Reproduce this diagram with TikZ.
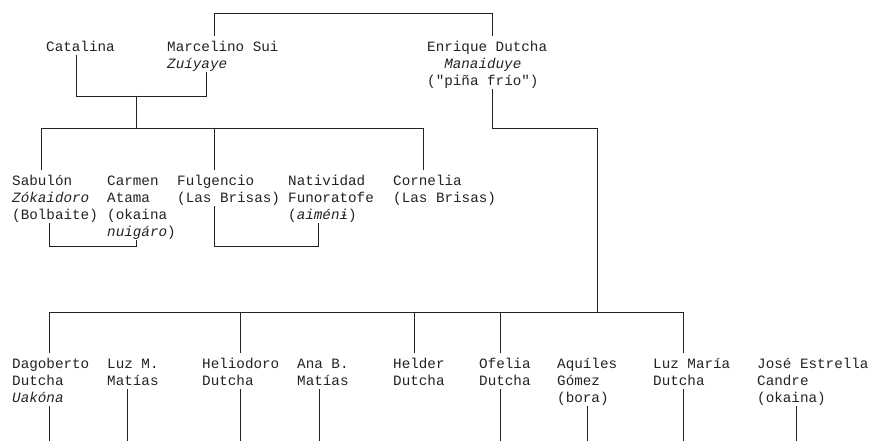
\documentclass[tikz,border=0pt]{standalone}
\usepackage{fontspec}
\setmonofont{Liberation Mono}
\definecolor{ink}{HTML}{222222}
\tikzset{
  person/.style={anchor=north west, inner sep=0pt, align=left, text=ink,
    font=\ttfamily\fontsize{14.27pt}{17pt}\selectfont},
  link/.style={draw=ink, line width=0.9pt},
}
\newcommand\ftop{\rule{0pt}{15pt}}
\newcommand\fbot{\rule[-4pt]{0pt}{4pt}}
\begin{document}
\begin{tikzpicture}[x=1pt,y=-1pt]
\useasboundingbox (0,0) rectangle (870,441);
% generation 1
\node[person] (cat) at (46,36) {\ftop Catalina\fbot};
\node[person] (mar) at (167,36) {\ftop Marcelino Sui\\\textit{Zuíyaye}\fbot};
\node[person] (enr) at (427,36) {\ftop Enrique Dutcha\\\hspace*{17.1pt}\textit{Manaiduye}\\("piña frío")\fbot};
% generation 2
\node[person] (sab) at (12,170) {\ftop Sabulón\\\textit{Zókaidoro}\\(Bolbaite)\fbot};
\node[person] (car) at (107,170) {\ftop Carmen\\Atama\\(okaina\\\textit{nuigáro})\fbot};
\node[person] (ful) at (177,170) {\ftop Fulgencio\\(Las Brisas)\fbot};
\node[person] (nat) at (288,170) {\ftop Natividad\\Funoratofe\\(\textit{aiménɨ})\fbot};
\node[person] (cor) at (393,170) {\ftop Cornelia\\(Las Brisas)\fbot};
% generation 3
\node[person] (dag) at (12,353) {\ftop Dagoberto\\Dutcha\\\textit{Uakóna}\fbot};
\node[person] (luzm) at (107,353) {\ftop Luz M.\\Matías\fbot};
\node[person] (hel) at (202,353) {\ftop Heliodoro\\Dutcha\fbot};
\node[person] (ana) at (297,353) {\ftop Ana B.\\Matías\fbot};
\node[person] (hld) at (393,353) {\ftop Helder\\Dutcha\fbot};
\node[person] (ofe) at (479,353) {\ftop Ofelia\\Dutcha\fbot};
\node[person] (aqu) at (557,353) {\ftop Aquíles\\Gómez\\(bora)\fbot};
\node[person] (lma) at (653,353) {\ftop Luz María\\Dutcha\fbot};
\node[person] (jos) at (757,353) {\ftop José Estrella\\Candre\\(okaina)\fbot};
% junction coordinates
\coordinate (tl) at (214,13);
\coordinate (tr) at (492,13);
\coordinate (c1) at (76,96);
\coordinate (c2) at (206,96);
\coordinate (c3) at (136,96);
\coordinate (c4) at (136,128);
\coordinate (b1) at (41,128);
\coordinate (b2) at (214,128);
\coordinate (b3) at (423,128);
\coordinate (e1) at (492,128);
\coordinate (e2) at (597,128);
\coordinate (e3) at (597,312);
\coordinate (d1) at (49,312);
\coordinate (d2) at (240,312);
\coordinate (d3) at (414,312);
\coordinate (d4) at (500,312);
\coordinate (d5) at (683,312);
\coordinate (m1) at (49,246);
\coordinate (m2) at (136,246);
\coordinate (m3) at (214,246);
\coordinate (m4) at (318,246);
\coordinate (f1) at (49,441);
\coordinate (f2) at (127,441);
\coordinate (f3) at (240,441);
\coordinate (f4) at (319,441);
\coordinate (f5) at (500,441);
\coordinate (f6) at (587,441);
\coordinate (f7) at (683,441);
\coordinate (f8) at (796,441);
% connectors
\draw[link] (mar.north -| tl) -- (tl) -- (tr) -- (enr.north -| tr);
\draw[link] (cat.south -| c1) -- (c1) -- (c2) -- (mar.south -| c2);
\draw[link] (c3) -- (c4);
\draw[link] (sab.north -| b1) -- (b1) -- (b3) -- (cor.north -| b3);
\draw[link] (b2) -- (ful.north -| b2);
\draw[link] (enr.south -| e1) -- (e1) -- (e2) -- (e3);
\draw[link] (dag.north -| d1) -- (d1) -- (d5) -- (lma.north -| d5);
\draw[link] (d2) -- (hel.north -| d2);
\draw[link] (d3) -- (hld.north -| d3);
\draw[link] (d4) -- (ofe.north -| d4);
\draw[link] (sab.south -| m1) -- (m1) -- (m2) -- (car.south -| m2);
\draw[link] (ful.south -| m3) -- (m3) -- (m4) -- (nat.south -| m4);
\draw[link] (dag.south -| f1) -- (f1);
\draw[link] (luzm.south -| f2) -- (f2);
\draw[link] (hel.south -| f3) -- (f3);
\draw[link] (ana.south -| f4) -- (f4);
\draw[link] (ofe.south -| f5) -- (f5);
\draw[link] (aqu.south -| f6) -- (f6);
\draw[link] (lma.south -| f7) -- (f7);
\draw[link] (jos.south -| f8) -- (f8);
\end{tikzpicture}
\end{document}
